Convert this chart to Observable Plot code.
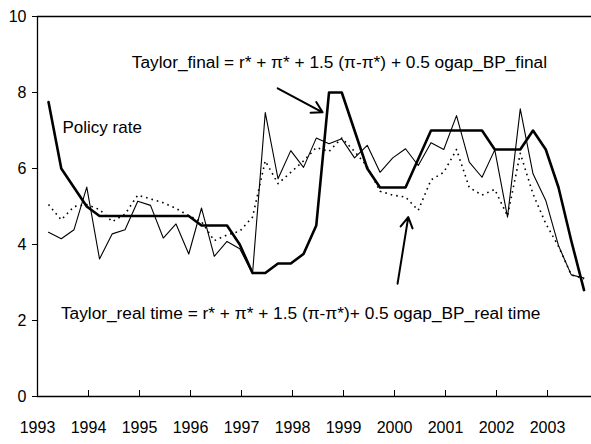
<!DOCTYPE html>
<html>
<head>
<meta charset="utf-8">
<script src="https://cdn.jsdelivr.net/npm/d3@7"></script>
<script src="https://cdn.jsdelivr.net/npm/@observablehq/plot@0.6"></script>
<style>
  html, body { margin: 0; padding: 0; background: #fff; }
  #chart svg { display: block; }
</style>
</head>
<body>
<div id="chart"></div>
<script>
const quarters = [
  "1993Q1","1993Q2","1993Q3","1993Q4",
  "1994Q1","1994Q2","1994Q3","1994Q4",
  "1995Q1","1995Q2","1995Q3","1995Q4",
  "1996Q1","1996Q2","1996Q3","1996Q4",
  "1997Q1","1997Q2","1997Q3","1997Q4",
  "1998Q1","1998Q2","1998Q3","1998Q4",
  "1999Q1","1999Q2","1999Q3","1999Q4",
  "2000Q1","2000Q2","2000Q3","2000Q4",
  "2001Q1","2001Q2","2001Q3","2001Q4",
  "2002Q1","2002Q2","2002Q3","2002Q4",
  "2003Q1","2003Q2","2003Q3"
];
const policyRate = [7.75,6.0,5.5,5.0,4.75,4.75,4.75,4.75,4.75,4.75,4.75,4.75,4.5,4.5,4.5,4.0,3.25,3.25,3.5,3.5,3.75,4.5,8.0,8.0,7.0,6.0,5.5,5.5,5.5,6.25,7.0,7.0,7.0,7.0,7.0,6.5,6.5,6.5,7.0,6.5,5.5,4.1,2.8];
const taylorFinal = [4.32,4.15,4.39,5.51,3.62,4.28,4.39,5.14,5.03,4.17,4.54,3.75,4.96,3.69,4.08,3.89,3.23,7.47,5.73,6.47,6.03,6.8,6.65,6.78,6.28,6.61,5.9,6.28,6.52,6.08,6.68,6.5,7.39,6.17,5.77,6.49,4.72,7.57,5.86,5.16,3.97,3.2,3.12];
const taylorRealTime = [5.05,4.65,5.0,5.05,4.92,4.6,4.8,5.3,5.2,5.1,4.95,4.76,4.6,4.1,4.25,4.35,4.72,6.2,5.6,5.9,6.2,6.55,6.45,6.8,6.45,6.05,5.4,5.3,5.25,4.9,5.7,5.9,6.5,5.5,5.3,5.45,4.75,6.4,5.33,4.55,3.95,3.2,3.1];
const yearTicks = [1993,1994,1995,1996,1997,1998,1999,2000,2001,2002,2003];
const valueTicks = [0,2,4,6,8,10];

// annotations (data coordinates)
const seriesLabel = [{text: "Policy rate", x: 1993.49, y: 7.09}];
const formulaLabels = [
  {text: "Taylor_final = r* + \u03c0* + 1.5 (\u03c0-\u03c0*) + 0.5 ogap_BP_final", x: 1998.92, y: 8.79},
  {text: "Taylor_real time = r* + \u03c0* + 1.5 (\u03c0-\u03c0*)+ 0.5 ogap_BP_real time", x: 1998.16, y: 2.18}
];
const arrows = [
  {x1: 1997.71, y1: 8.11, x2: 1998.59, y2: 7.48},
  {x1: 2000.06, y1: 2.97, x2: 2000.27, y2: 4.72}
];

const toYear = q => +q.slice(0, 4) + (+q.slice(5) - 1) / 4 + 0.216;
const rows = quarters.map((q, i) => ({
  t: toYear(q), policy: policyRate[i], final: taylorFinal[i], real: taylorRealTime[i]
}));

const FONT = "'Liberation Sans',Arial,sans-serif";

const chart = Plot.plot({
  width: 591,
  height: 444,
  marginLeft: 37,
  marginRight: 0,
  marginTop: 16,
  marginBottom: 48,
  style: {fontFamily: FONT, fontSize: "16px", color: "#000", background: "#fff"},
  x: {domain: [1993, 1993 + 554 / 51], label: null},
  y: {domain: [0, 10], label: null},
  marks: [
    Plot.ruleY([0, 10], {stroke: "#000", strokeWidth: 1.3}),
    Plot.ruleX([1993], {stroke: "#000", strokeWidth: 1.3}),
    Plot.tickX(yearTicks.slice(1), {x: d => d, stroke: "#000", strokeWidth: 1, insetTop: 374}),
    Plot.axisX({ticks: yearTicks, tickFormat: d => String(d), tickSize: 0, tickPadding: 25, fontSize: 16}),
    Plot.axisY({ticks: valueTicks, tickSize: 5, tickPadding: 6, fontSize: 16}),
    Plot.line(rows, {x: "t", y: "real", stroke: "#000", strokeWidth: 1.6, strokeDasharray: "1.6,4", strokeLinecap: "butt"}),
    Plot.line(rows, {x: "t", y: "final", stroke: "#000", strokeWidth: 1.1}),
    Plot.line(rows, {x: "t", y: "policy", stroke: "#000", strokeWidth: 2.6}),
    Plot.arrow(arrows, {x1: "x1", y1: "y1", x2: "x2", y2: "y2", stroke: "#000", strokeWidth: 2, headLength: 9}),
    Plot.text(seriesLabel, {x: "x", y: "y", text: "text", textAnchor: "start", fontSize: 17, fill: "#000"}),
    Plot.text(formulaLabels, {x: "x", y: "y", text: "text", textAnchor: "middle", fontSize: 17.3, fill: "#000"})
  ]
});
document.getElementById("chart").appendChild(chart);
</script>
</body>
</html>
